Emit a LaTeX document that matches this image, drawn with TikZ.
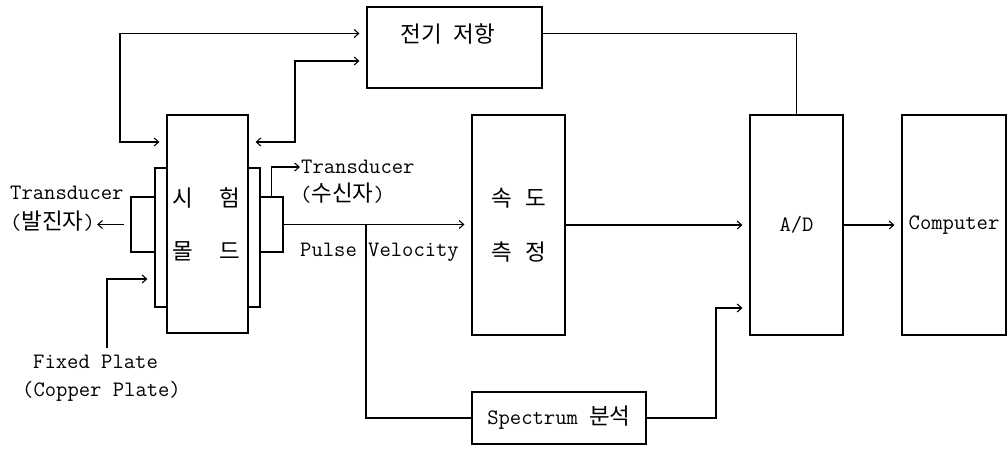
\documentclass[tikz,border=0pt]{standalone}
\usepackage{fontspec}
\setmainfont{Latin Modern Mono}
\newfontfamily\krfont{Noto Sans CJK KR}
\newcommand\kr[1]{{\krfont\fontsize{22.5}{26}\selectfont #1}}
\usetikzlibrary{arrows.meta}
\begin{document}
\begin{tikzpicture}[x=1pt,y=-1pt,
  font=\fontsize{22}{26}\selectfont,
  blk/.style={draw, line width=1.1pt, inner sep=0pt},
  lbl/.style={inner sep=0pt},
  wire/.style={line width=1.1pt},
  arr/.style={wire, -{Straight Barb[length=4.5pt,width=8pt]}, shorten >=7pt},
  darr/.style={wire, {Straight Barb[length=4.5pt,width=8pt]}-{Straight Barb[length=4.5pt,width=8pt]}, shorten >=7pt, shorten <=7pt}]
\fill[white] (0,0) rectangle (1008,448);
\useasboundingbox (0,0) rectangle (1008,448);

% specimen mould with plates and transducers
\node[blk, minimum width=12pt, minimum height=139pt] (lp) at (161,237.5) {};
\node[blk, minimum width=12pt, minimum height=139pt] (rp) at (254,237.5) {};
\node[blk, minimum width=24pt, minimum height=55pt] (lt) at (143,224.5) {};
\node[blk, minimum width=23pt, minimum height=55pt] (rt) at (271.5,224.5) {};
\node[blk, minimum width=81pt, minimum height=218pt] (mold) at (207.5,224) {};
\node[lbl] (moldA) at (206.5,198) {\kr{시}\hspace{26pt}\kr{험}};
\node[lbl] (moldB) at (206.5,251) {\kr{몰}\hspace{26pt}\kr{드}};

% processing blocks
\node[blk, minimum width=175pt, minimum height=81pt] (res) at (454.5,47.5) {};
\node[lbl] (resT) at (448,34) {\kr{전기} \kr{저항}};
\node[blk, minimum width=93pt, minimum height=220pt] (vel) at (518.5,225) {};
\node[lbl] (velA) at (519,198) {\kr{속}\hspace{13pt}\kr{도}};
\node[lbl] (velB) at (519,252) {\kr{측}\hspace{13pt}\kr{정}};
\node[blk, minimum width=93pt, minimum height=220pt] (ad) at (796.5,225) {A/D};
\node[blk, minimum width=104pt, minimum height=220pt] (comp) at (954,225) {Computer};
\node[blk, minimum width=174pt, minimum height=52pt] (spec) at (559,418) {Spectrum \kr{분석}};

% labels
\node[lbl, anchor=west] (tdL) at (10,193) {Transducer};
\node[lbl, anchor=west] (txL) at (10,221) {(\kr{발진자})};
\node[lbl, anchor=west] (tdR) at (301,167) {Transducer};
\node[lbl, anchor=west] (rxR) at (300,193) {(\kr{수신자})};
\node[lbl, anchor=west] (pv) at (300,252) {Pulse Velocity};
\node[lbl, anchor=west] (fp1) at (33,362) {Fixed Plate};
\node[lbl, anchor=west] (fp2) at (22,391) {(Copper Plate)};

% corner points of the wiring
\coordinate (kL) at (120,142);
\coordinate (kR) at (295,142);
\coordinate (split) at (366,224.5);
\coordinate (kS) at (716,308);
\coordinate (kF) at (107,279);

% connectors
\draw[darr] (kL -| mold.west) -- (kL) |- ([yshift=14pt]res.west);
\draw[darr] (kR -| mold.east) -- (kR) |- ([yshift=-13.5pt]res.west);
\draw[wire] ([yshift=14pt]res.east) -| (ad.north);
\draw[arr] (rt.east) -- (rt.east -| vel.west);
\draw[wire] (split) |- (spec.west);
\draw[arr] (spec.east) -| (kS) -- (kS -| ad.west);
\draw[arr] (vel.east) -- (ad.west);
\draw[arr] (ad.east) -- (comp.west);
\draw[arr, shorten >=1pt] (rt.north) |- (tdR.west);
\draw[arr, shorten >=2pt, shorten <=6pt] (lt.west) -- (lt.west -| txL.east);
\draw[arr, shorten <=7pt] (fp1.north -| kF) -- (kF) -- (kF -| lp.west);
\end{tikzpicture}
\end{document}
